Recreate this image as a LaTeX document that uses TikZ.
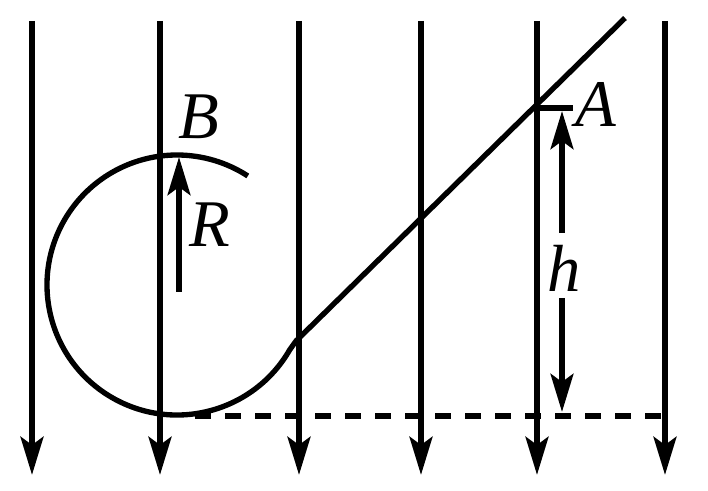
\documentclass[tikz,border=0pt]{standalone}
\usetikzlibrary{arrows.meta}
\usepackage{fontspec}
\setmainfont{Liberation Serif}
\tikzset{
 x=0.75pt,y=-0.75pt,
 fieldline/.style={line width=4.6pt,black,-{Stealth[length=28.5pt,width=17pt,inset=6pt]}},
 track/.style={line width=4pt,black,line join=round},
 dimline/.style={line width=4.4pt,black,-{Stealth[length=28.5pt,width=17pt,inset=6pt]}},
 lbl/.style={inner sep=0pt,anchor=base,font=\fontsize{50}{50}\selectfont\itshape}
}
\begin{document}
\begin{tikzpicture}
\useasboundingbox (0,0) rectangle (708,491);
\foreach \n/\x in {a/32,b/160,c/299,d/421,e/537,f/665}{
 \coordinate (\n t) at (\x,21);
 \coordinate (\n b) at (\x,475);
 \draw[fieldline] (\n t) -- (\n b);
}
% track
\coordinate (top) at (625,18);
\coordinate (kink) at (296,341);
\coordinate (join) at (289.6,350);
\draw[track] (top) -- (kink) -- (join) arc[start angle=30,end angle=303,radius=130];
% dashed
\coordinate (dl) at (195,416);
\coordinate (dr) at (665,416);
\draw[line width=4.6pt,dash pattern=on 12pt off 10.5pt] (dl) -- (dr);
% A tick
\coordinate (a1) at (537,108);
\coordinate (a2) at (573,108);
\draw[line width=4.4pt] (a1) -- (a2);
% R
\coordinate (r1) at (179,292);
\coordinate (r2) at (179,157);
\draw[dimline] (r1) -- (r2);
% h
\node[lbl] (h) at (564,292) {h};
\coordinate (hup) at (562,233);
\coordinate (hdown) at (562,298);
\coordinate (h1) at (562,111);
\coordinate (h2) at (562,412);
\draw[dimline] (hup) -- (h1);
\draw[dimline] (hdown) -- (h2);
\node[lbl] (A) at (595.5,127) {A};
\node[lbl] (B) at (199,139) {B};
\node[lbl] (R) at (210,247) {R};
\end{tikzpicture}
\end{document}
